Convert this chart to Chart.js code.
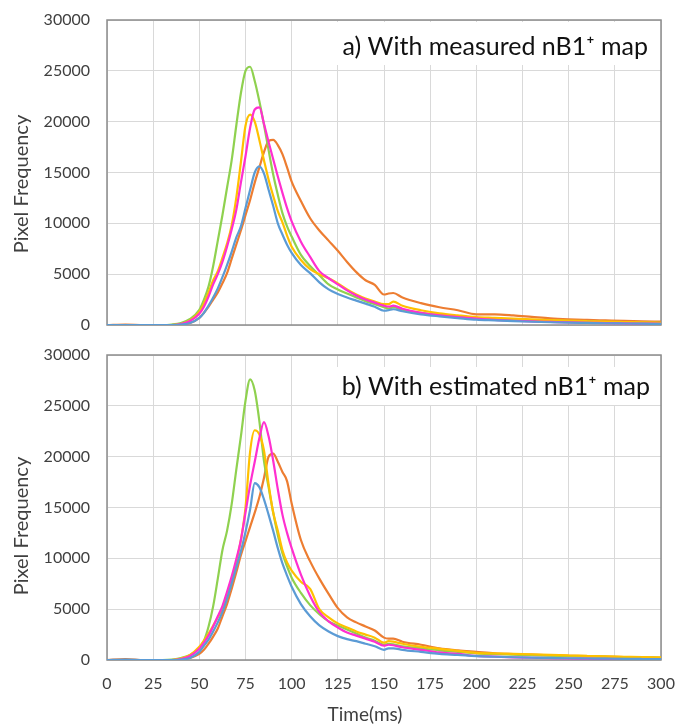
<!DOCTYPE html>
<html>
<head>
<meta charset="utf-8">
<script src="https://cdn.jsdelivr.net/npm/chart.js@4.4.1/dist/chart.umd.min.js"></script>
<style>
  html, body { margin: 0; padding: 0; background: #fff; }
  #haut { position: absolute; left: 0; top: 0; }
  #bas { position: absolute; left: 0; top: 335px; }
</style>
</head>
<body>
<canvas id="haut" width="675" height="335"></canvas>
<canvas id="bas" width="675" height="391"></canvas>
<script>
// temps (ms) communs aux deux panneaux
const temps = [0, 10, 20, 30, 35, 40, 45, 50, 52.5, 55, 57.5, 60, 62.5, 65, 67.5, 70, 72.5, 75, 77.5, 80,
  82.5, 85, 87.5, 90, 92.5, 95, 97.5, 100, 105, 110, 115, 120, 125, 130, 135, 140, 145, 150, 152.5, 155,
  160, 170, 180, 190, 200, 210, 220, 230, 240, 250, 260, 270, 280, 290, 300];

const ticksX = [0, 25, 50, 75, 100, 125, 150, 175, 200, 225, 250, 275, 300];
const ticksY = [0, 5000, 10000, 15000, 20000, 25000, 30000];

// a) With measured nB1+ map
const bleuA = [0, 0, 0, 0, 0, 50, 200, 700, 1200, 1900, 2700, 3600, 4700, 5900, 7200, 8600, 9700, 11500, 13300, 15000,
  15600, 14900, 13300, 11700, 10000, 8900, 7900, 7100, 5900, 5100, 4200, 3500, 3050, 2700, 2400, 2100, 1800, 1400, 1450, 1550,
  1350, 1050, 850, 680, 520, 450, 380, 320, 270, 230, 200, 170, 150, 130, 110];
const orangeA = [0, 50, 0, 0, 0, 50, 200, 700, 1200, 1800, 2500, 3200, 4100, 5100, 6500, 7900, 9300, 10800, 12300, 14000,
  15500, 17000, 18100, 18200, 17700, 16800, 15500, 14100, 12200, 10500, 9300, 8300, 7300, 6200, 5200, 4400, 3950, 3000, 3100, 3150,
  2700, 2150, 1750, 1450, 1050, 1050, 950, 800, 650, 560, 500, 450, 400, 360, 330];
const magentaA = [0, 0, 0, 0, 0, 100, 400, 1100, 1800, 2800, 4000, 5000, 6200, 7700, 9400, 11300, 14000, 16600, 19400, 21200,
  21400, 19800, 18000, 16300, 14600, 13000, 11500, 10200, 8200, 6700, 5300, 4600, 4000, 3400, 2900, 2500, 2200, 1900, 1800, 1900,
  1600, 1200, 950, 780, 620, 500, 420, 350, 300, 250, 220, 190, 160, 140, 120];
const jauneA = [0, 0, 0, 0, 0, 100, 450, 1300, 2100, 3200, 4400, 5300, 6600, 8000, 9800, 12500, 16000, 19600, 20700, 20000,
  18200, 16200, 14300, 12700, 11200, 10100, 8800, 7700, 6400, 5500, 5000, 4600, 4100, 3500, 3000, 2600, 2300, 2050, 2050, 2300,
  1900, 1450, 1150, 950, 780, 700, 620, 550, 480, 430, 380, 330, 290, 250, 220];
const vertA = [0, 0, 0, 0, 50, 200, 600, 1500, 2500, 3800, 5800, 8300, 10800, 13500, 16200, 19600, 22800, 25000, 25400, 24000,
  22000, 19700, 17200, 14800, 12800, 11000, 9700, 8700, 6900, 5800, 4900, 4000, 3500, 3100, 2700, 2350, 2050, 1750, 1600, 1750,
  1500, 1200, 1000, 850, 700, 620, 550, 480, 420, 380, 330, 290, 250, 220, 200];

// b) With estimated nB1+ map
const bleuB = [0, 50, 0, 0, 0, 50, 200, 800, 1400, 2000, 2800, 3700, 4700, 6000, 7500, 9100, 10700, 12600, 14800, 17400,
  17000, 15800, 14300, 12700, 11000, 9500, 8300, 7200, 5500, 4300, 3400, 2800, 2350, 2050, 1850, 1600, 1350, 1000, 1150, 1150,
  1000, 800, 600, 500, 380, 320, 270, 230, 200, 170, 150, 130, 110, 100, 90];
const orangeB = [0, 100, 0, 0, 0, 50, 200, 600, 1000, 1600, 2300, 3100, 4300, 5500, 7000, 8600, 10300, 11700, 13100, 14500,
  16000, 17900, 20000, 20300, 19500, 18500, 17600, 15400, 11800, 9700, 8000, 6500, 5100, 4200, 3700, 3300, 2900, 2200, 2100, 2100,
  1800, 1500, 1150, 950, 800, 650, 580, 520, 460, 420, 380, 330, 290, 260, 220];
const magentaB = [0, 0, 0, 0, 0, 100, 400, 1100, 1700, 2400, 3300, 4300, 5300, 6700, 8200, 9900, 11800, 14500, 17200, 19500,
  21800, 23400, 22000, 19600, 16800, 14300, 12500, 11000, 8400, 6300, 4700, 3800, 3200, 2700, 2400, 2100, 1800, 1400, 1500, 1450,
  1250, 1000, 750, 600, 400, 330, 260, 220, 180, 150, 130, 110, 90, 80, 60];
const jauneB = [0, 0, 0, 0, 0, 150, 500, 1300, 1900, 2600, 3400, 4200, 5000, 6200, 7800, 9600, 11800, 15000, 20500, 22600,
  22200, 20600, 17300, 14500, 12700, 10800, 9600, 8800, 7700, 7000, 5000, 4200, 3600, 3200, 2800, 2500, 2200, 1700, 1850, 1800,
  1600, 1300, 1100, 900, 700, 650, 600, 550, 500, 450, 400, 350, 320, 290, 250];
const vertB = [0, 0, 0, 0, 30, 200, 500, 1200, 1900, 3300, 5300, 8000, 10800, 12700, 15300, 18700, 22000, 25500, 27600, 26500,
  23500, 19600, 17000, 14500, 12300, 10500, 9200, 8100, 6600, 5400, 4500, 3800, 3400, 3000, 2600, 2200, 1900, 1500, 1600, 1550,
  1350, 1150, 950, 800, 650, 580, 520, 470, 420, 380, 340, 300, 270, 240, 210];

const police = 'Lato, "Open Sans", sans-serif';

// transforme une série en points {x, y}
function points(serie) {
  return temps.map((t, i) => ({ x: t, y: serie[i] }));
}

function jeux(bleu, orange, magenta, jaune, vert) {
  const style = { borderWidth: 2.2, pointRadius: 0, fill: false, cubicInterpolationMode: 'monotone' };
  return [
    { ...style, label: 'bleu', data: points(bleu), borderColor: '#5B9BD5' },
    { ...style, label: 'magenta', data: points(magenta), borderColor: '#FF2FD0' },
    { ...style, label: 'jaune', data: points(jaune), borderColor: '#FFC000' },
    { ...style, label: 'vert', data: points(vert), borderColor: '#8FD14F' },
    { ...style, label: 'orange', data: points(orange), borderColor: '#ED7D31' }
  ];
}

// cadre gris, encart de texte et titres d'axes
function décor(texte, boite, titreY, avecTitreX) {
  return {
    id: 'decor',
    beforeDatasetsDraw(chart) {
      const { ctx, chartArea: a } = chart;
      ctx.save();
      ctx.strokeStyle = '#8c8c8c';
      ctx.lineWidth = 1.5;
      ctx.strokeRect(a.left, a.top, a.right - a.left, a.bottom - a.top);
      ctx.restore();
    },
    afterDatasetsDraw(chart) {
      const { ctx } = chart;
      ctx.save();
      ctx.fillStyle = '#fff';
      ctx.fillRect(boite.x, boite.y, boite.w, boite.h);
      ctx.fillStyle = '#111';
      ctx.font = '25px ' + police;
      ctx.textAlign = 'right';
      ctx.textBaseline = 'middle';
      ctx.fillText(texte, boite.xt, boite.yt);

      ctx.fillStyle = '#404040';
      ctx.font = '20px ' + police;
      ctx.textAlign = 'center';
      ctx.translate(22, titreY);
      ctx.rotate(-Math.PI / 2);
      ctx.fillText('Pixel Frequency', 0, 0);
      ctx.restore();

      if (avecTitreX) {
        ctx.save();
        ctx.fillStyle = '#404040';
        ctx.font = '19px ' + police;
        ctx.textAlign = 'center';
        ctx.textBaseline = 'middle';
        ctx.fillText('Time(ms)', 365, 380);
        ctx.restore();
      }
    }
  };
}

// les marges des étiquettes passent par tickLength (ticks transparents) pour ne pas gonfler le padding
function options(avecLabelsX) {
  return {
    responsive: false,
    animation: false,
    layout: { padding: { left: 10, right: 14, top: 20, bottom: avecLabelsX ? 0 : 10 } },
    plugins: { legend: { display: false }, tooltip: { enabled: false } },
    scales: {
      x: {
        type: 'linear', min: 0, max: 300,
        afterBuildTicks: (s) => { s.ticks = ticksX.map(v => ({ value: v })); },
        afterFit: (s) => { s.height = avecLabelsX ? 66 : 0; },
        grid: { color: '#d9d9d9', lineWidth: 1, drawTicks: avecLabelsX, tickLength: 14, tickColor: 'rgba(0,0,0,0)' },
        border: { display: false },
        ticks: {
          display: avecLabelsX, padding: 0, maxRotation: 0, autoSkip: false,
          color: '#404040', font: { family: police, size: 16 }
        }
      },
      y: {
        min: 0, max: 30000,
        afterBuildTicks: (s) => { s.ticks = ticksY.map(v => ({ value: v })); },
        afterFit: (s) => { s.width = 97; },
        grid: { color: '#d9d9d9', lineWidth: 1, drawTicks: true, tickLength: 17, tickColor: 'rgba(0,0,0,0)' },
        border: { display: false },
        ticks: {
          padding: 0, color: '#404040', font: { family: police, size: 16 },
          callback: (v) => String(v)
        }
      }
    }
  };
}

new Chart(document.getElementById('haut').getContext('2d'), {
  type: 'line',
  data: { datasets: jeux(bleuA, orangeA, magentaA, jauneA, vertA) },
  options: options(false),
  plugins: [décor('a) With measured nB1\u207A map', { x: 332, y: 22, w: 322, h: 43, xt: 648, yt: 47 }, 184, false)]
});

new Chart(document.getElementById('bas').getContext('2d'), {
  type: 'line',
  data: { datasets: jeux(bleuB, orangeB, magentaB, jauneB, vertB) },
  options: options(true),
  plugins: [décor('b) With estimated nB1\u207A map', { x: 332, y: 32, w: 322, h: 38, xt: 650, yt: 52 }, 191, true)]
});
</script>
</body>
</html>
